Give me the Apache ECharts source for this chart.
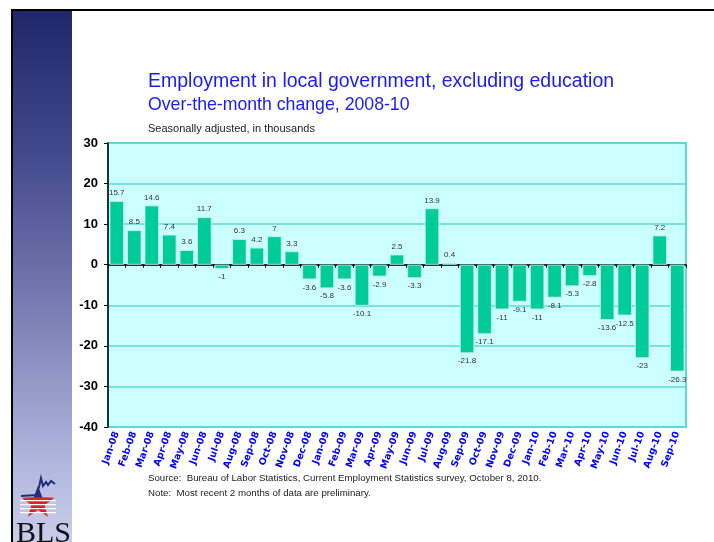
<!DOCTYPE html>
<html>
<head>
<meta charset="utf-8">
<script src="https://cdn.jsdelivr.net/npm/echarts@6/dist/echarts.min.js"></script>
<style>
  html, body { margin: 0; padding: 0; background: #fff; }
  #chart { width: 714px; height: 542px; }
</style>
</head>
<body>
<div id="chart"></div>
<script>
const months = ['Jan-08','Feb-08','Mar-08','Apr-08','May-08','Jun-08','Jul-08','Aug-08','Sep-08','Oct-08','Nov-08','Dec-08',
  'Jan-09','Feb-09','Mar-09','Apr-09','May-09','Jun-09','Jul-09','Aug-09','Sep-09','Oct-09','Nov-09','Dec-09',
  'Jan-10','Feb-10','Mar-10','Apr-10','May-10','Jun-10','Jul-10','Aug-10','Sep-10'];
const changes = [15.7, 8.5, 14.6, 7.4, 3.6, 11.7, -1, 6.3, 4.2, 7, 3.3, -3.6,
  -5.8, -3.6, -10.1, -2.9, 2.5, -3.3, 13.9, 0.4, -21.8, -17.1, -11, -9.1,
  -11, -8.1, -5.3, -2.8, -13.6, -12.5, -23, 7.2, -26.3];

const chart = echarts.init(document.getElementById('chart'));

const barData = changes.map(v => ({
  value: v,
  label: { position: v < 0 ? 'bottom' : 'top' }
}));

// star outline for the logo
const starPts = [];
for (let i = 0; i < 10; i++) {
  const a = Math.PI / 2 + i * Math.PI / 5;
  const r = i % 2 === 0 ? 17 : 7;
  starPts.push([38 + r * Math.cos(a), 503 - r * Math.sin(a)]);
}
const stripes = [500, 504, 508, 512].map(y => ({
  type: 'rect', silent: true, shape: { x: 20, y: y, width: 36, height: 1.2 }, style: { fill: '#fff' }
}));

chart.setOption({
  animation: false,
  textStyle: { fontFamily: 'Liberation Sans' },
  title: [
    {
      text: 'Employment in local government, excluding education',
      left: 143, top: 67,
      textStyle: { color: '#1a1aff', fontSize: 19.5, fontWeight: 'normal', fontFamily: 'Liberation Sans' }
    },
    {
      text: 'Over-the-month change, 2008-10',
      left: 143, top: 91,
      textStyle: { color: '#1a1aff', fontSize: 17.7, fontWeight: 'normal', fontFamily: 'Liberation Sans' }
    },
    {
      text: 'Seasonally adjusted, in thousands',
      left: 143, top: 118,
      textStyle: { color: '#222', fontSize: 11, fontWeight: 'normal' }
    }
  ],
  graphic: [
    { type: 'rect', shape: { x: 11, y: 9, width: 703, height: 2 }, style: { fill: '#000' }, silent: true },
    { type: 'rect', shape: { x: 11, y: 9, width: 2, height: 533 }, style: { fill: '#000' }, silent: true },
    {
      type: 'rect', shape: { x: 13, y: 11, width: 59, height: 531 }, silent: true,
      style: {
        fill: new echarts.graphic.LinearGradient(0, 0, 0, 1, [
          { offset: 0, color: '#1f2768' },
          { offset: 0.27, color: '#434a8c' },
          { offset: 0.5, color: '#6d72aa' },
          { offset: 0.86, color: '#b3b8df' },
          { offset: 1, color: '#c9cde9' }
        ])
      }
    },
    // BLS logo
    { type: 'polygon', silent: true, shape: { points: starPts }, style: { fill: '#d8232a' } },
    ...stripes,
    {
      type: 'polygon', silent: true,
      shape: { points: [starPts[0], starPts[1], starPts[9]] },
      style: { fill: '#1f2f7a' }
    },
    {
      type: 'polyline', silent: true,
      shape: { points: [[21,496],[36,495],[39,487],[41,478],[43,486],[46,482],[48,485],[51,481],[55,484]] },
      style: { stroke: '#1f2f7a', lineWidth: 2, fill: null }
    },
    {
      type: 'text', left: 16, top: 519, silent: true,
      style: { text: 'BLS', fill: '#111', font: '30px "Liberation Serif"' }
    },
    // source notes
    {
      type: 'text', left: 148, top: 473, silent: true,
      style: { text: 'Source:  Bureau of Labor Statistics, Current Employment Statistics survey, October 8, 2010.', fill: '#222', font: '9.7px "Liberation Sans"' }
    },
    {
      type: 'text', left: 148, top: 488, silent: true,
      style: { text: 'Note:  Most recent 2 months of data are preliminary.', fill: '#222', font: '9.7px "Liberation Sans"' }
    }
  ],
  grid: {
    left: 108, right: 28, top: 143, bottom: 115,
    outerBoundsMode: 'none',
    containLabel: false,
    show: true,
    backgroundColor: '#ccffff',
    borderColor: '#5fd8d8',
    borderWidth: 2
  },
  xAxis: {
    type: 'category',
    data: months,
    axisLine: { onZero: true, lineStyle: { color: '#000', width: 1.5 } },
    axisTick: { show: true, lineStyle: { color: '#000' }, length: 3 },
    axisLabel: {
      interval: 0,
      rotate: 70,
      color: '#0000ff',
      fontWeight: 'bold',
      fontSize: 9.5,
      fontFamily: 'DejaVu Sans',
      margin: 5
    }
  },
  yAxis: {
    type: 'value',
    min: -40, max: 30, interval: 10,
    axisLine: { show: true, lineStyle: { color: '#000', width: 1.5 } },
    axisTick: { show: true, inside: false, length: 4, lineStyle: { color: '#000' } },
    axisLabel: { color: '#000', fontWeight: 'bold', fontSize: 13, margin: 10 },
    splitLine: { lineStyle: { color: '#5fd8d8', width: 1.5 } }
  },
  series: [{
    type: 'bar',
    data: barData,
    barCategoryGap: '18%',
    itemStyle: { color: '#00cc99', borderColor: '#bff5e6', borderWidth: 0.8 },
    label: {
      show: true,
      color: '#333',
      fontSize: 8,
      distance: 4
    }
  }]
});
</script>
</body>
</html>
